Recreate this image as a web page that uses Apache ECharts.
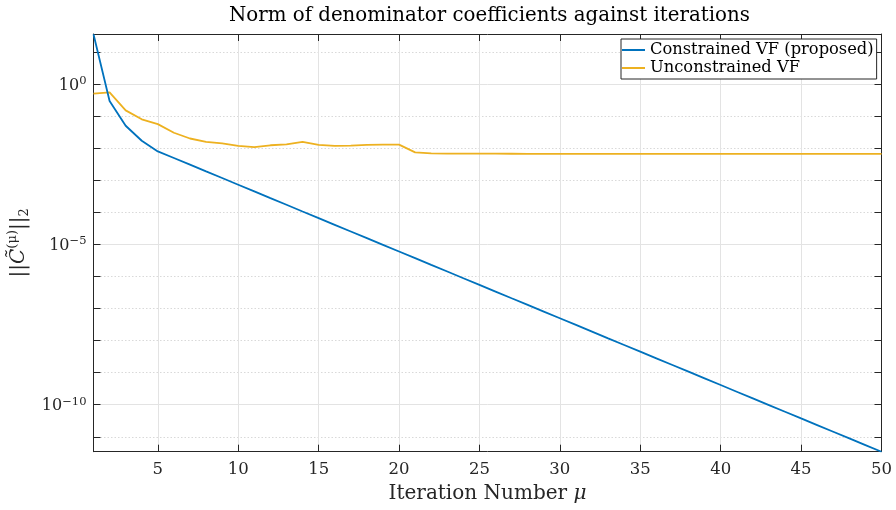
<!DOCTYPE html>
<html><head><meta charset="utf-8">
<script src="https://cdn.jsdelivr.net/npm/echarts@6/dist/echarts.min.js"></script>
<style>html,body{margin:0;padding:0;background:#fff}#c{width:896px;height:510px}</style>
</head><body><div id="c"></div>
<script>
const iterations = [1,2,3,4,5,6,7,8,9,10,11,12,13,14,15,16,17,18,19,20,21,22,23,24,25,26,27,28,29,30,31,32,33,34,35,36,37,38,39,40,41,42,43,44,45,46,47,48,49,50];
const constrainedVF = [3.55e1,2.95e-1,5.0e-2,1.70e-2,7.9e-3,4.92e-3,3.05e-3,1.88e-3,1.17e-3,7.23e-4,
  4.48e-4,2.77e-4,1.72e-4,1.06e-4,6.58e-5,4.07e-5,2.52e-5,1.56e-5,9.66e-6,5.98e-6,
  3.71e-6,2.29e-6,1.42e-6,8.79e-7,5.44e-7,3.37e-7,2.08e-7,1.29e-7,8.00e-8,4.95e-8,
  3.07e-8,1.90e-8,1.17e-8,7.28e-9,4.51e-9,2.79e-9,1.73e-9,1.07e-9,6.62e-10,4.10e-10,
  2.54e-10,1.57e-10,9.73e-11,6.03e-11,3.73e-11,2.31e-11,1.43e-11,8.86e-12,5.48e-12,3.40e-12];
const unconstrainedVF = [0.501,0.550,0.151,0.0794,0.0562,0.0302,0.0200,0.0158,0.0141,0.0117,
  0.0107,0.0123,0.0132,0.0158,0.0126,0.0117,0.0120,0.0126,0.0129,0.0129,
  0.00741,0.00692,0.00676,0.00676,0.00676,0.00672,0.00668,0.00665,0.00663,0.00661,
  0.00661,0.00661,0.00661,0.00661,0.00661,0.00661,0.00661,0.00661,0.00661,0.00661,
  0.00661,0.00661,0.00661,0.00661,0.00661,0.00661,0.00661,0.00661,0.00661,0.00661];
const seriesNames = ['Constrained VF (proposed)', 'Unconstrained VF'];
const xTicks = [5,10,15,20,25,30,35,40,45,50];
const yMajorExp = [0,-5,-10];
const yMinorExp = [1,-1,-2,-3,-4,-6,-7,-8,-9,-11];
const yAllExp = [1,0,-1,-2,-3,-4,-5,-6,-7,-8,-9,-10,-11];
const xRange = [1, 50];
const yRange = [3.42e-12, 3.63e1];

const FONT = 'DejaVu Serif';
const AX = '#262626';
const yMin = Math.log10(yRange[0]), yMax = Math.log10(yRange[1]);
const toPts = arr => iterations.map((x, i) => [x, Math.log10(arr[i])]);

const chart = echarts.init(document.getElementById('c'), null, {renderer: 'canvas'});
const baseY = {type: 'value', min: yMin, max: yMax, position: 'left'};
chart.setOption({
  animation: false,
  backgroundColor: '#fff',
  title: {
    text: 'Norm of denominator coefficients against iterations',
    left: 224, top: 1,
    textStyle: {fontFamily: FONT, fontSize: 19.8, fontWeight: 'normal', color: '#000'}
  },
  grid: {left: 93.5, right: 14.5, top: 34, bottom: 58.3, containLabel: false, outerBoundsMode: 'none'},
  legend: {
    data: seriesNames, orient: 'vertical', left: 621, top: 39,
    icon: 'rect', itemWidth: 23, itemHeight: 2, itemGap: 2,
    padding: [3, 3, 3, 1],
    borderColor: AX, borderWidth: 1, backgroundColor: '#fff',
    textStyle: {fontFamily: FONT, fontSize: 16.3, color: '#000'}
  },
  xAxis: [
    {type: 'value', min: xRange[0], max: xRange[1], position: 'bottom',
     name: '{n|Iteration Number }{i|μ}', nameLocation: 'middle', nameGap: 32,
     nameTextStyle: {rich: {
       n: {fontFamily: FONT, fontSize: 20, color: AX},
       i: {fontFamily: FONT, fontSize: 20, color: AX, fontStyle: 'italic'}}},
     axisLine: {show: true, onZero: false, lineStyle: {color: AX, width: 1}},
     axisTick: {show: true, inside: true, length: 7, customValues: xTicks, lineStyle: {color: AX}},
     axisLabel: {customValues: xTicks, fontFamily: FONT, fontSize: 16.5, color: AX, margin: 10},
     splitLine: {show: true, lineStyle: {color: '#e3e3e3', width: 1}}
    },
    {type: 'value', min: xRange[0], max: xRange[1], position: 'top',
     axisLine: {show: true, onZero: false, lineStyle: {color: AX, width: 1}},
     axisTick: {show: true, inside: true, length: 7, customValues: xTicks, lineStyle: {color: AX}},
     axisLabel: {show: false}, splitLine: {show: false}
    }
  ],
  yAxis: [
    Object.assign({}, baseY, {
      name: '{n|||}{i|C̃}{s|(μ)}{n|||}{b|2}', nameLocation: 'middle', nameRotate: 90, nameGap: 55,
      nameTextStyle: {rich: {
        n: {fontFamily: FONT, fontSize: 20, color: AX, lineHeight: 25},
        i: {fontFamily: FONT, fontSize: 20, color: AX, fontStyle: 'italic', lineHeight: 25},
        s: {fontFamily: FONT, fontSize: 13, color: AX, verticalAlign: 'top', lineHeight: 13},
        b: {fontFamily: FONT, fontSize: 13, color: AX, verticalAlign: 'bottom', lineHeight: 13}}},
      axisLine: {show: true, lineStyle: {color: AX, width: 1}},
      axisTick: {show: true, inside: true, length: 7, customValues: yAllExp, lineStyle: {color: AX}},
      axisLabel: {customValues: yMajorExp, margin: 7,
        formatter: v => '{b|10}{s|' + (v === 0 ? '0' : '\u2212' + Math.round(-v)) + '}',
        rich: {
          b: {fontFamily: FONT, fontSize: 16, color: AX, lineHeight: 18, padding: [3, 0, 0, 0]},
          s: {fontFamily: FONT, fontSize: 11.5, color: AX, verticalAlign: 'top', lineHeight: 12}}},
      splitLine: {show: false}
    }),
    Object.assign({}, baseY, {
      axisLine: {show: false}, axisLabel: {show: false},
      axisTick: {show: false, customValues: yMajorExp},
      splitLine: {show: true, lineStyle: {color: '#e3e3e3', width: 1}}
    }),
    Object.assign({}, baseY, {
      axisLine: {show: false}, axisLabel: {show: false},
      axisTick: {show: false, customValues: yMinorExp},
      splitLine: {show: true, lineStyle: {color: '#d9d9d9', width: 1, type: [1.5, 2]}}
    }),
    Object.assign({}, baseY, {
      position: 'right',
      axisLine: {show: true, lineStyle: {color: AX, width: 1}}, axisLabel: {show: false},
      axisTick: {show: true, inside: true, length: 7, customValues: yAllExp, lineStyle: {color: AX}},
      splitLine: {show: false}
    })
  ],
  series: [
    {name: seriesNames[0], type: 'line', data: toPts(constrainedVF), showSymbol: false, symbol: 'none',
     lineStyle: {color: '#0072BD', width: 1.8}, itemStyle: {color: '#0072BD'}, z: 3},
    {name: seriesNames[1], type: 'line', data: toPts(unconstrainedVF), showSymbol: false, symbol: 'none',
     lineStyle: {color: '#EDB120', width: 1.8}, itemStyle: {color: '#EDB120'}, z: 2}
  ]
});
</script></body></html>
